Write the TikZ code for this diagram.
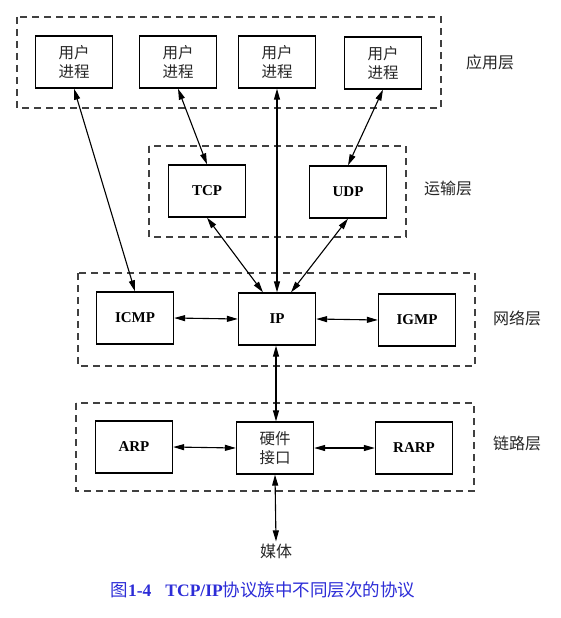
\documentclass[tikz,border=0pt]{standalone}
\usepackage{fontspec}
\setmainfont{Liberation Serif}
\newfontfamily\cjk{Noto Sans CJK SC}
\usetikzlibrary{arrows.meta}
\definecolor{capblue}{RGB}{45,45,215}
\tikzset{
  box/.style={draw,line width=1.3pt,minimum width=77pt,minimum height=52pt,inner sep=0pt,align=center},
  proto/.style={box,font=\fontsize{15}{17}\selectfont\bfseries},
  proc/.style={box,font=\cjk\fontsize{15.5}{19.5}\selectfont,text=black!85},
  layer/.style={draw=black!75,line width=1.1pt,dash pattern=on 7pt off 5pt},
  layername/.style={font=\cjk\fontsize{16}{18}\selectfont,text=black!85},
  link/.style={{Triangle[length=11pt,width=6pt]}-{Triangle[length=11pt,width=6pt]},line width=1.1pt}
}
\begin{document}
\begin{tikzpicture}[x=1pt,y=-1pt]
\useasboundingbox (0,0) rectangle (560,618);
% layer frames
\draw[layer] (17,17) rectangle (441,108);
\draw[layer] (149,146) rectangle (406,237);
\draw[layer] (78,273) rectangle (475,366);
\draw[layer] (76,403) rectangle (474,491);
\node[layername] (appl) at (490,62) {应用层};
\node[layername] (tranl) at (448,188) {运输层};
\node[layername] (netl) at (517,318) {网络层};
\node[layername] (linkl) at (517,443) {链路层};
% application layer
\node[proc] (u1) at (74,62) {用户\\进程};
\node[proc] (u2) at (178,62) {用户\\进程};
\node[proc] (u3) at (277,62) {用户\\进程};
\node[proc] (u4) at (383,63) {用户\\进程};
% transport layer
\node[proto] (tcp) at (207,191) {TCP};
\node[proto] (udp) at (348,192) {UDP};
% network layer
\node[proto] (icmp) at (135,318) {ICMP};
\node[proto] (ip) at (277,319) {IP};
\node[proto] (igmp) at (417,320) {IGMP};
% link layer
\node[proto] (arp) at (134,447) {ARP};
\node[proc] (hw) at (275,448) {硬件\\接口};
\node[proto] (rarp) at (414,448) {RARP};
\node[font=\cjk\fontsize{16}{18}\selectfont,text=black!85,inner sep=2pt] (media) at (276,551) {媒体};
% connectors
\draw[link] (u1.south) -- (icmp.north);
\draw[link] (u2.south) -- (tcp.north);
\draw[link] (u3.south) -- (ip.north);
\draw[link] (u4.south) -- (udp.north);
\draw[link] (tcp.south) -- ([xshift=-14pt]ip.north);
\draw[link] (udp.south) -- ([xshift=14pt]ip.north);
\draw[link] (icmp.east) -- (ip.west);
\draw[link] (ip.east) -- (igmp.west);
\draw[link] ([xshift=-1pt]ip.south) -- ([xshift=1pt]hw.north);
\draw[link] (arp.east) -- (hw.west);
\draw[link] (hw.east) -- (rarp.west);
\draw[link] (hw.south) -- (media.north);
% caption
\node[text=capblue,font=\fontsize{17.5}{20}\selectfont,inner sep=0pt] (cap) at (263,590)
  {{\cjk 图}\textbf{1-4}\hspace{14pt}\textbf{TCP/IP}{\cjk 协议族中不同层次的协议}};
\end{tikzpicture}
\end{document}
